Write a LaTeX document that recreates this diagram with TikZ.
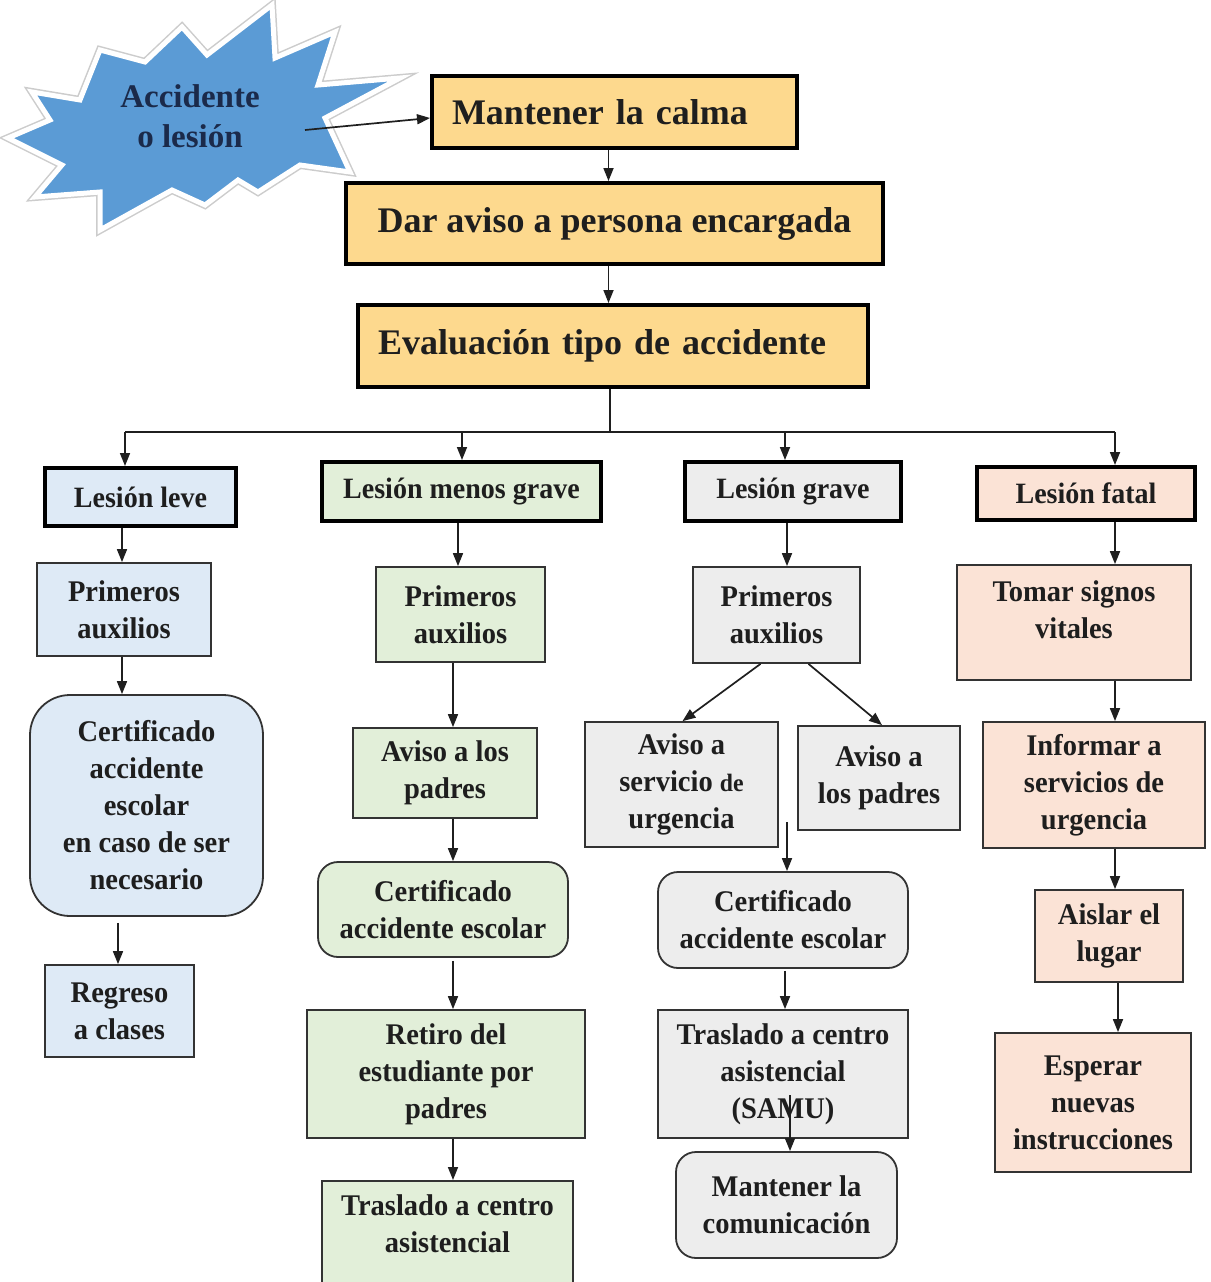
\documentclass[tikz,border=0pt]{standalone}
\usepackage{fontspec}
\setmainfont{Liberation Serif}
\newfontfamily\cf[FakeStretch=0.95]{Liberation Serif}
\usetikzlibrary{arrows.meta,calc}
\definecolor{topfill}{HTML}{FDD98E}
\definecolor{levefill}{HTML}{DEEAF6}
\definecolor{menosfill}{HTML}{E2EFD9}
\definecolor{gravefill}{HTML}{EDEDED}
\definecolor{fatalfill}{HTML}{FBE3D6}
\definecolor{starblue}{HTML}{5B9BD5}
\definecolor{startext}{HTML}{1B2A4A}
\definecolor{ink}{HTML}{1E1E1E}
\begin{document}
\begin{tikzpicture}[x=1pt,y=-1pt,
  every node/.style={inner sep=0pt, align=center, text=ink},
  arr/.style={draw=black!88, line width=1.7pt, -{Triangle[length=13pt,width=10pt]}},
  topbox/.style={draw=black, line width=4pt, fill=topfill, font=\fontsize{36}{42}\selectfont\bfseries},
  headbox/.style={draw=black, line width=4pt, font=\cf\fontsize{29.5}{36}\selectfont\bfseries},
  stepbox/.style={draw=black!80, line width=1.8pt, font=\cf\fontsize{30}{37}\selectfont\bfseries},
  roundbox/.style={stepbox, rounded corners=20pt},
]
\useasboundingbox (0,0) rectangle (1210,1282);
\fill[white] (0,0) rectangle (1210,1282);
\clip (0,0) rectangle (1210,1282);

% starburst
\def\starpath{(32,92) -- (80,100) -- (100,50) -- (145,62) -- (182,27) -- (207,55) -- (272,5) -- (275,58) -- (335,32) -- (318,85) -- (400,78) -- (325,118) -- (350,172) -- (300,165) -- (258,192) -- (238,180) -- (205,205) -- (172,190) -- (100,230) -- (100,192) -- (35,197) -- (62,165) -- (8,138) -- (50,120) -- cycle}
\draw[line width=8pt, black!20, line join=miter, miter limit=20] \starpath;
\draw[line width=5pt, white, fill=starblue, line join=miter, miter limit=20] \starpath;
\node[font=\fontsize{33}{40}\selectfont\bfseries, text=startext] (star) at (190,116) {Accidente\\o lesión};
\coordinate (starout) at (305,130);

% top boxes
\node[topbox, minimum width=365pt, minimum height=72pt, text width=325pt, align=left] (m1) at (614.5,112) {Mantener la calma};
\node[topbox, minimum width=537pt, minimum height=81pt] (m2) at (614.5,223.5) {Dar aviso a persona encargada};
\node[topbox, minimum width=510pt, minimum height=82pt, text width=470pt, align=left] (m3) at (613,346) {Evaluación tipo de accidente};

% headers
\node[headbox, fill=levefill, minimum width=191pt, minimum height=58pt] (h1) at (140.5,497) {Lesión leve};
\node[headbox, fill=menosfill, minimum width=279pt, minimum height=59pt] (h2) at (461.5,491.5) {Lesión menos grave};
\node[headbox, fill=gravefill, minimum width=216pt, minimum height=59pt] (h3) at (793,491.5) {Lesión grave};
\node[headbox, fill=fatalfill, minimum width=218pt, minimum height=53pt] (h4) at (1086,493.5) {Lesión fatal};

% column 1
\node[stepbox, fill=levefill, minimum width=174pt, minimum height=93pt] (p1) at (124,609.5) {Primeros\\auxilios};
\node[stepbox, fill=levefill, rounded corners=40pt, minimum width=233pt, minimum height=221pt] (c1) at (146.5,805.5) {Certificado\\accidente\\escolar\\en caso de ser\\necesario};
\node[stepbox, fill=levefill, minimum width=149pt, minimum height=92pt] (r1) at (119.5,1011) {Regreso\\a clases};

% column 2
\node[stepbox, fill=menosfill, minimum width=169pt, minimum height=95pt] (p2) at (460.5,614.5) {Primeros\\auxilios};
\node[stepbox, fill=menosfill, minimum width=184pt, minimum height=90pt] (a2) at (445,773) {Aviso a los\\padres};
\node[roundbox, fill=menosfill, minimum width=250pt, minimum height=95pt] (c2) at (443,909.5) {Certificado\\accidente escolar};
\node[stepbox, fill=menosfill, minimum width=278pt, minimum height=128pt] (rt2) at (446,1074) {Retiro del\\estudiante por\\padres};
\node[stepbox, fill=menosfill, minimum width=251pt, minimum height=150pt, anchor=north] (t2) at (447.5,1180) {\vphantom{A}\\[-26pt]Traslado a centro\\asistencial\\ \\ };

% column 3
\node[stepbox, fill=gravefill, minimum width=167pt, minimum height=96pt] (p3) at (776.5,615) {Primeros\\auxilios};
\node[stepbox, fill=gravefill, minimum width=193pt, minimum height=125pt] (s3) at (681.5,784.5) {Aviso a\\servicio {\fontsize{25}{37}\selectfont de}\\urgencia};
\node[stepbox, fill=gravefill, minimum width=162pt, minimum height=104pt] (pa3) at (879,778) {Aviso a\\los padres};
\node[roundbox, fill=gravefill, minimum width=250pt, minimum height=96pt] (c3) at (783,920) {Certificado\\accidente escolar};
\node[stepbox, fill=gravefill, minimum width=250pt, minimum height=128pt] (t3) at (783,1074) {Traslado a centro\\asistencial\\(SAMU)};
\node[roundbox, fill=gravefill, minimum width=221pt, minimum height=106pt] (mc3) at (786.5,1205) {Mantener la\\comunicación};

% column 4
\node[stepbox, fill=fatalfill, minimum width=234pt, minimum height=115pt] (tv4) at (1074,622.5) {Tomar signos\\vitales\\[-12pt]};
\node[stepbox, fill=fatalfill, minimum width=222pt, minimum height=126pt] (i4) at (1094,785) {Informar a\\servicios de\\urgencia};
\node[stepbox, fill=fatalfill, minimum width=148pt, minimum height=92pt] (ai4) at (1109,936) {Aislar el\\lugar};
\node[stepbox, fill=fatalfill, minimum width=196pt, minimum height=139pt] (e4) at (1093,1102.5) {Esperar\\nuevas\\instrucciones};

% top connectors
\draw[arr] (starout) -- ([yshift=-6pt]m1.west);
\draw[arr] ([xshift=-6pt]m1.south) -- ([xshift=-6pt]m1.south |- m2.north);
\draw[arr] ([xshift=-6pt]m2.south) -- ([xshift=-6pt]m2.south |- m3.north);

% bus
\coordinate (bt) at (610,432);
\coordinate (b1) at (125,432);
\coordinate (b2) at (462,432);
\coordinate (b3) at (785,432);
\coordinate (b4) at (1115,432);
\draw[line width=1.6pt, black!88] (bt |- m3.south) -- (bt);
\draw[line width=1.6pt, black!88] (b1) -- (b4);
\draw[arr] (b1) -- (b1 |- h1.north);
\draw[arr] (b2) -- (b2 |- h2.north);
\draw[arr] (b3) -- (b3 |- h3.north);
\draw[arr] (b4) -- (b4 |- h4.north);

% column 1 connectors
\coordinate (x1) at (122,0);
\draw[arr] (x1 |- h1.south) -- (x1 |- p1.north);
\draw[arr] (x1 |- p1.south) -- (x1 |- c1.north);
\coordinate (x1b) at (118,0);
\draw[arr, shorten <=6pt] (x1b |- c1.south) -- (x1b |- r1.north);

% column 2 connectors
\coordinate (x2) at (458,0);
\coordinate (x2b) at (453,0);
\draw[arr] (x2 |- h2.south) -- (x2 |- p2.north);
\draw[arr] (x2b |- p2.south) -- (x2b |- a2.north);
\draw[arr] (x2b |- a2.south) -- (x2b |- c2.north);
\draw[arr, shorten <=3pt] (x2b |- c2.south) -- (x2b |- rt2.north);
\draw[arr] (x2b |- rt2.south) -- (x2b |- t2.north);

% column 3 connectors
\coordinate (x3) at (787,0);
\draw[arr] (x3 |- h3.south) -- (x3 |- p3.north);
\draw[arr] ([xshift=-16pt]p3.south) -- ([xshift=1pt]s3.north);
\draw[arr] ([xshift=32pt]p3.south) -- ([xshift=3pt]pa3.north);
\coordinate (f3) at (787,822);
\draw[arr] (f3) -- (f3 |- c3.north);
\coordinate (x3b) at (785,0);
\draw[arr, shorten <=2pt] (x3b |- c3.south) -- (x3b |- t3.north);
\coordinate (f4) at (790,1095);
\draw[arr] (f4) -- (f4 |- mc3.north);

% column 4 connectors
\draw[arr] (b4 |- h4.south) -- (b4 |- tv4.north);
\draw[arr] (b4 |- tv4.south) -- (b4 |- i4.north);
\draw[arr] (b4 |- i4.south) -- (b4 |- ai4.north);
\coordinate (x4) at (1118,0);
\draw[arr] (x4 |- ai4.south) -- (x4 |- e4.north);
\end{tikzpicture}
\end{document}
